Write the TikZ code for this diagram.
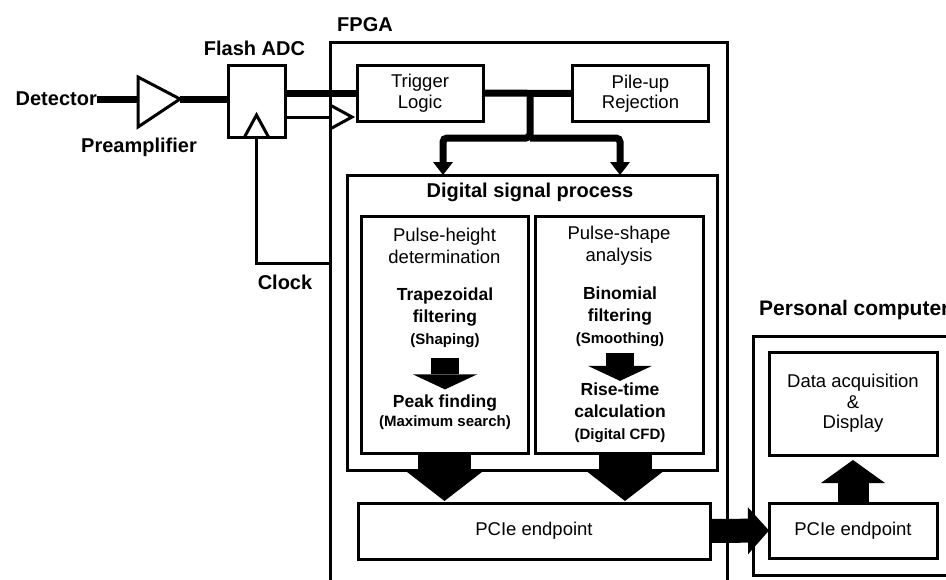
\documentclass[tikz,border=0pt]{standalone}
\usepackage{fontspec}
\setmainfont{Liberation Sans}
\usetikzlibrary{arrows.meta}

\newcommand\subnote[1]{{\bfseries\fontsize{15}{17}\selectfont #1}}

\begin{document}
\begin{tikzpicture}[x=1pt,y=-1pt,
    box/.style={draw,line width=3pt,inner sep=0pt,outer sep=0pt,align=center,font=\fontsize{18.5}{20.5}\selectfont},
    tag/.style={inner sep=0pt,font=\bfseries\fontsize{20}{22}\selectfont},
    txt/.style={inner sep=0pt,align=center,font=\fontsize{18.5}{22}\selectfont},
    btxt/.style={inner sep=0pt,align=center,font=\bfseries\fontsize{17.5}{22}\selectfont},
    wire/.style={line width=3pt},
    bus/.style={line width=7pt},
    busarrow/.style={bus,-{Triangle[length=13pt,width=20pt,line width=0pt]}},
    fat/.style={line width=53pt,-{Triangle[length=31pt,width=80pt,line width=0pt]}},
    midarrow/.style={line width=28pt,-{Triangle[length=15pt,width=64pt,line width=0pt]}},
    sidearrow/.style={line width=24pt,-{Triangle[length=21pt,width=47pt,line width=0pt]}},
    uparrow/.style={line width=31pt,-{Triangle[length=23pt,width=64pt,line width=0pt]}}]
    \useasboundingbox (0,0) rectangle (946,579);
    \clip (0,0) rectangle (946,579);

    % front end
    \node[tag,anchor=east] (det) at (97,99) {Detector};
    \node[tag] (preamp) at (139,147) {Preamplifier};
    \coordinate (amp_in) at (138,99);
    \coordinate (amp_out) at (180,99);
    \draw[wire] (138,77) -- (amp_out) -- (138,127) -- cycle;
    \node[box,minimum width=57pt,minimum height=72pt] (adc) at (256.5,101) {};
    \node[tag] (adc_name) at (254.5,48) {Flash ADC};
    \node[tag] (clk_name) at (285,282) {Clock};

    % FPGA
    \node[box,minimum width=397pt,minimum height=658pt] (fpga) at (528.5,371) {};
    \node[tag,anchor=west] (fpga_name) at (337,25) {FPGA};
    \node[box,minimum width=126pt,minimum height=56pt] (trig) at (420,93) {Trigger\\Logic};
    \node[box,minimum width=136pt,minimum height=56pt] (pile) at (640.5,93.5) {Pile-up\\Rejection};
    \node[box,minimum width=370pt,minimum height=295pt] (dsp) at (532,322.5) {};
    \node[tag] (dsp_name) at (530,192) {Digital signal process};
    \node[box,minimum width=167pt,minimum height=237pt] (ph) at (444.5,334.5) {};
    \node[box,minimum width=168pt,minimum height=237pt] (ps) at (619,334.5) {};
    \node[txt] (ph_head) at (444.5,246) {Pulse-height\\determination};
    \node[btxt] (ph_filter) at (445,318) {Trapezoidal\\filtering\\\subnote{(Shaping)}};
    \node[btxt] (ph_peak) at (445,412) {Peak finding\\[-3pt]\subnote{(Maximum search)}};
    \node[txt] (ps_head) at (619,246) {Pulse-shape\\analysis};
    \node[btxt] (ps_filter) at (620,317) {Binomial\\filtering\\\subnote{(Smoothing)}};
    \node[btxt] (ps_rise) at (620,413) {Rise-time\\calculation\\\subnote{(Digital CFD)}};
    \node[box,minimum width=352pt,minimum height=56pt] (fpcie) at (534,531) {PCIe endpoint};

    % Personal computer
    \node[box,minimum width=247pt,minimum height=239pt] (pc) at (876.5,455.5) {};
    \node[tag,anchor=west,font=\bfseries\fontsize{21}{23}\selectfont] (pc_name) at (759,310) {Personal computer};
    \node[box,minimum width=168pt,minimum height=103pt] (daq) at (853,403.5) {Data acquisition\\\&\\Display};
    \node[box,minimum width=168pt,minimum height=55pt] (pcpcie) at (853,530.5) {PCIe endpoint};

    % signal lines
    \coordinate (clkin) at (330,117);
    \coordinate (clk) at (330,263);
    \coordinate (fork) at (530,138);
    \coordinate (tapL) at (443,175);
    \coordinate (tapR) at (620,175);
    \draw[bus] (det.east) -- (amp_in);
    \draw[bus] (amp_out) -- (adc.west |- amp_out);
    \draw[bus] (adc.east |- trig.west) -- (trig.west);
    \draw[wire] (adc.east |- clkin) -- (clkin);
    \draw[wire] (clkin) ++(0,-12) -- ++(22,12) -- ++(-22,12);
    \draw[wire] (adc.south) ++(-12,0) -- ++(12,-22) -- ++(12,22);
    \draw[wire] (adc.south) |- (clk);
    \draw[bus] (trig.east) -- (pile.west);
    \draw[busarrow,rounded corners=4pt] (trig.east -| fork) -- (fork) -| (tapL);
    \draw[busarrow,rounded corners=4pt] (fork) -| (tapR);

    % block arrows
    \draw[midarrow,shorten <=10pt,shorten >=5pt] (ph_filter.south) -- (ph_peak.north);
    \draw[midarrow,shorten <=6pt,shorten >=2pt] (ps_filter.south) -- (ps_rise.north);
    \draw[fat,shorten >=2pt] (ph.south) -- (ph.south |- fpcie.north);
    \draw[fat,shorten >=2pt] ([xshift=6pt]ps.south) -- ([xshift=6pt]ps.south |- fpcie.north);
    \draw[sidearrow] (fpcie.east) -- (pcpcie.west);
    \draw[uparrow,shorten >=5pt] (pcpcie.north) -- (daq.south);
\end{tikzpicture}
\end{document}
